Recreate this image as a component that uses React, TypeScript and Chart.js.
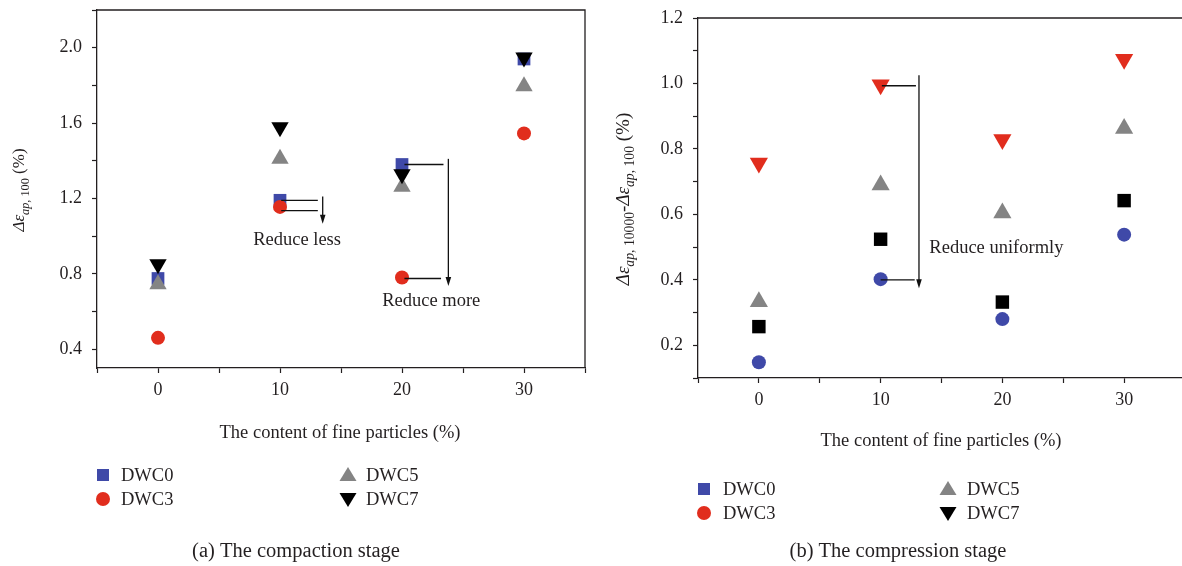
import React, { useEffect, useRef } from "react";
import { Chart, registerables } from "chart.js";
Chart.register(...registerables);

const FONT = '"Liberation Serif", "Times New Roman", serif';
const INK = "#231f20";
const BLUE = "#3f49a8";
const RED = "#e12d1d";
const GRAY = "#848484";
const BLACK = "#000000";

// x categories: content of fine particles (%)
const contentX = [0, 10, 20, 30];

// (a) compaction stage
const aDWC0 = [0.775, 1.19, 1.38, 1.94];
const aDWC3 = [0.46, 1.155, 0.78, 1.545];
const aDWC5 = [0.745, 1.41, 1.262, 1.795];
const aDWC7 = [0.85, 1.578, 1.328, 1.948];

// (b) compression stage (markers as drawn in the plot)
const bSquare = [0.257, 0.524, 0.332, 0.642];
const bCircle = [0.148, 0.402, 0.28, 0.538];
const bTriUp = [0.333, 0.69, 0.604, 0.862];
const bTriDown = [0.757, 0.996, 0.829, 1.074];

const seriesNames = ["DWC0", "DWC3", "DWC5", "DWC7"];

const xMajor = [0, 10, 20, 30];
const xMinor = [-5, 5, 15, 25, 35];
const aYMajor = [0.4, 0.8, 1.2, 1.6, 2.0];
const aYMinor = [0.6, 1.0, 1.4, 1.8, 2.2];
const bYMajor = [0.2, 0.4, 0.6, 0.8, 1.0, 1.2];
const bYMinor = [0.1, 0.3, 0.5, 0.7, 0.9, 1.1];

type Part = { t: string; i?: boolean; sub?: boolean };

const aYTitle: Part[] = [
  { t: "Δε", i: true },
  { t: "ap", i: true, sub: true },
  { t: ", 100", sub: true },
  { t: " (%)" },
];
const bYTitle: Part[] = [
  { t: "Δε", i: true },
  { t: "ap", i: true, sub: true },
  { t: ", 10000", sub: true },
  { t: "-" },
  { t: "Δε", i: true },
  { t: "ap", i: true, sub: true },
  { t: ", 100", sub: true },
  { t: " (%)" },
];

// annotations in data units
const aLines = [
  [[10.1, 1.19], [13.1, 1.19]],
  [[10.1, 1.135], [13.1, 1.135]],
  [[20.2, 1.38], [23.4, 1.38]],
  [[20.2, 0.775], [23.2, 0.775]],
];
const aArrows = [
  [[13.5, 1.21], [13.5, 1.065]],
  [[23.8, 1.41], [23.8, 0.735]],
];
const aTexts = [
  { t: "Reduce less", x: 11.4, y: 0.98, align: "center" },
  { t: "Reduce more", x: 22.4, y: 0.655, align: "center" },
];
const bLines = [
  [[10.1, 0.993], [12.9, 0.993]],
  [[10.0, 0.4], [12.8, 0.4]],
];
const bArrows = [[[13.15, 1.025], [13.15, 0.374]]];
const bTexts = [{ t: "Reduce uniformly", x: 14.0, y: 0.496, align: "left" }];

function font(size: number, italic = false) {
  return `${italic ? "italic " : ""}${size}px ${FONT}`;
}

function drawRich(ctx: CanvasRenderingContext2D, parts: Part[], cx: number, cy: number, size: number) {
  ctx.save();
  ctx.translate(cx, cy);
  ctx.rotate(-Math.PI / 2);
  const subSize = size * 0.72;
  let total = 0;
  const widths = parts.map((p) => {
    ctx.font = font(p.sub ? subSize : size, p.i);
    const w = ctx.measureText(p.t).width;
    total += w;
    return w;
  });
  let x = -total / 2;
  ctx.fillStyle = INK;
  ctx.textBaseline = "alphabetic";
  ctx.textAlign = "left";
  parts.forEach((p, k) => {
    ctx.font = font(p.sub ? subSize : size, p.i);
    ctx.fillText(p.t, x, size * 0.35 + (p.sub ? size * 0.28 : 0));
    x += widths[k];
  });
  ctx.restore();
}

function drawMarker(ctx: CanvasRenderingContext2D, shape: string, color: string, x: number, y: number) {
  ctx.save();
  ctx.fillStyle = color;
  ctx.beginPath();
  if (shape === "rect") {
    ctx.rect(x - 6, y - 6, 12, 12);
  } else if (shape === "circle") {
    ctx.arc(x, y, 7, 0, Math.PI * 2);
  } else if (shape === "up") {
    ctx.moveTo(x, y - 8);
    ctx.lineTo(x + 8.5, y + 6);
    ctx.lineTo(x - 8.5, y + 6);
    ctx.closePath();
  } else {
    ctx.moveTo(x, y + 8);
    ctx.lineTo(x + 8.5, y - 6);
    ctx.lineTo(x - 8.5, y - 6);
    ctx.closePath();
  }
  ctx.fill();
  ctx.restore();
}

const legendShapes = ["rect", "circle", "up", "down"];
const legendColors = [BLUE, RED, GRAY, BLACK];

type Decor = {
  yTitle: Part[];
  yTitleSize: number;
  yTitleX: number;
  yTitleY: number;
  xTitle: string;
  xTitleX: number;
  xTitleY: number;
  caption: string;
  captionX: number;
  captionY: number;
  legendCols: number[][]; // [markerX, textX]
  legendRows: number[];
  lines: number[][][];
  arrows: number[][][];
  texts: { t: string; x: number; y: number; align: string }[];
};

function makeDecor(d: Decor) {
  return {
    id: "decor",
    afterDatasetsDraw(chart: any) {
      const ctx: CanvasRenderingContext2D = chart.ctx;
      const xs = chart.scales.x;
      const ys = chart.scales.y;
      ctx.save();
      ctx.strokeStyle = "#111";
      ctx.fillStyle = "#111";
      ctx.lineWidth = 1.3;
      d.lines.forEach(([a, b]) => {
        ctx.beginPath();
        ctx.moveTo(xs.getPixelForValue(a[0]), ys.getPixelForValue(a[1]));
        ctx.lineTo(xs.getPixelForValue(b[0]), ys.getPixelForValue(b[1]));
        ctx.stroke();
      });
      d.arrows.forEach(([a, b]) => {
        const x1 = xs.getPixelForValue(a[0]);
        const y1 = ys.getPixelForValue(a[1]);
        const x2 = xs.getPixelForValue(b[0]);
        const y2 = ys.getPixelForValue(b[1]);
        ctx.beginPath();
        ctx.moveTo(x1, y1);
        ctx.lineTo(x2, y2 - 6);
        ctx.stroke();
        ctx.beginPath();
        ctx.moveTo(x2, y2);
        ctx.lineTo(x2 - 2.8, y2 - 9);
        ctx.lineTo(x2 + 2.8, y2 - 9);
        ctx.closePath();
        ctx.fill();
      });
      ctx.fillStyle = INK;
      ctx.font = font(18.5);
      ctx.textBaseline = "middle";
      d.texts.forEach((t) => {
        ctx.textAlign = t.align as CanvasTextAlign;
        ctx.fillText(t.t, xs.getPixelForValue(t.x), ys.getPixelForValue(t.y));
      });
      ctx.restore();
    },
    afterDraw(chart: any) {
      const ctx: CanvasRenderingContext2D = chart.ctx;
      const a = chart.chartArea;
      ctx.save();
      ctx.strokeStyle = INK;
      ctx.lineWidth = 1.3;
      ctx.beginPath();
      ctx.moveTo(a.left, a.top);
      ctx.lineTo(a.right, a.top);
      ctx.lineTo(a.right, a.bottom);
      ctx.stroke();

      drawRich(ctx, d.yTitle, d.yTitleX, d.yTitleY, d.yTitleSize);

      ctx.fillStyle = INK;
      ctx.textBaseline = "middle";
      ctx.textAlign = "center";
      ctx.font = font(18.5);
      ctx.fillText(d.xTitle, d.xTitleX, d.xTitleY);
      ctx.font = font(20.5);
      ctx.fillText(d.caption, d.captionX, d.captionY);

      ctx.font = font(18.5);
      ctx.textAlign = "left";
      seriesNames.forEach((name, k) => {
        const col = d.legendCols[Math.floor(k / 2)];
        const row = d.legendRows[k % 2];
        drawMarker(ctx, legendShapes[k], legendColors[k], col[0], row);
        ctx.fillStyle = INK;
        ctx.fillText(name, col[1], row + 1);
      });
      ctx.restore();
    },
  };
}

function near(list: number[], v: number) {
  return list.some((m) => Math.abs(m - v) < 1e-6);
}

function makeOptions(yMin: number, yMax: number, yMajor: number[], yMinor: number[], yWidth: number, padTop: number, padBottom: number) {
  const grid = {
    display: true,
    drawOnChartArea: false,
    drawTicks: true,
    tickLength: 5,
    tickColor: INK,
    tickWidth: 1.2,
  };
  return {
    responsive: false,
    animation: false as const,
    layout: { padding: { left: 0, right: 15, top: padTop, bottom: padBottom } },
    plugins: { legend: { display: false }, tooltip: { enabled: false } },
    scales: {
      x: {
        type: "linear" as const,
        min: -5,
        max: 35,
        grid,
        border: { display: true, color: INK, width: 1.3 },
        afterBuildTicks: (s: any) => {
          s.ticks = [...xMajor, ...xMinor].sort((p, q) => p - q).map((v) => ({ value: v }));
        },
        afterFit: (s: any) => {
          s.height = 30;
          s.paddingLeft = 0;
          s.paddingRight = 0;
        },
        ticks: {
          color: INK,
          font: { family: FONT, size: 18 },
          padding: 6,
          maxRotation: 0,
          autoSkip: false,
          callback: (v: any) => (near(xMajor, Number(v)) ? String(v) : ""),
        },
      },
      y: {
        type: "linear" as const,
        min: yMin,
        max: yMax,
        grid,
        border: { display: true, color: INK, width: 1.3 },
        afterBuildTicks: (s: any) => {
          s.ticks = [...yMajor, ...yMinor].sort((p, q) => p - q).map((v) => ({ value: v }));
        },
        afterFit: (s: any) => {
          s.width = yWidth;
          s.paddingTop = 0;
          s.paddingBottom = 0;
        },
        ticks: {
          color: INK,
          font: { family: FONT, size: 18 },
          padding: 10,
          autoSkip: false,
          callback: (v: any) => (near(yMajor, Number(v)) ? Number(v).toFixed(1) : ""),
        },
      },
    },
  };
}

function ds(label: string, values: number[], style: string, color: string, radius: number, order: number, rotation = 0) {
  return {
    label,
    data: contentX.map((x, k) => ({ x, y: values[k] })),
    showLine: false,
    pointStyle: style,
    pointRotation: rotation,
    pointRadius: radius,
    pointBackgroundColor: color,
    pointBorderColor: color,
    pointBorderWidth: 0,
    order,
  };
}

function ChartA() {
  const ref = useRef<HTMLCanvasElement>(null);
  useEffect(() => {
    const chart = new Chart(ref.current!, {
      type: "scatter",
      data: {
        datasets: [
          ds("DWC0", aDWC0, "rect", BLUE, 9, 4),
          ds("DWC3", aDWC3, "circle", RED, 7, 3),
          ds("DWC5", aDWC5, "triangle", GRAY, 10, 2),
          ds("DWC7", aDWC7, "triangle", BLACK, 10, 1, 180),
        ],
      },
      options: makeOptions(0.3, 2.2, aYMajor, aYMinor, 97, 8, 566 - 368 - 30) as any,
      plugins: [
        makeDecor({
          yTitle: aYTitle,
          yTitleSize: 17,
          yTitleX: 18,
          yTitleY: 190,
          xTitle: "The content of fine particles (%)",
          xTitleX: 340,
          xTitleY: 433,
          caption: "(a) The compaction stage",
          captionX: 296,
          captionY: 552,
          legendCols: [[103, 121], [348, 366]],
          legendRows: [475, 499],
          lines: aLines,
          arrows: aArrows,
          texts: aTexts,
        }),
      ],
    });
    return () => chart.destroy();
  }, []);
  return <canvas ref={ref} width={600} height={566} style={{ width: 600, height: 566, display: "block" }} />;
}

function ChartB() {
  const ref = useRef<HTMLCanvasElement>(null);
  useEffect(() => {
    const chart = new Chart(ref.current!, {
      type: "scatter",
      data: {
        datasets: [
          ds("DWC0", bSquare, "rect", BLACK, 9.5, 4),
          ds("DWC3", bCircle, "circle", BLUE, 7, 3),
          ds("DWC5", bTriUp, "triangle", GRAY, 10.5, 2),
          ds("DWC7", bTriDown, "triangle", RED, 10.5, 1, 180),
        ],
      },
      options: makeOptions(0.1, 1.2, bYMajor, bYMinor, 98, 18, 566 - 378 - 30) as any,
      plugins: [
        makeDecor({
          yTitle: bYTitle,
          yTitleSize: 19,
          yTitleX: 22,
          yTitleY: 199,
          xTitle: "The content of fine particles (%)",
          xTitleX: 341,
          xTitleY: 441,
          caption: "(b) The compression stage",
          captionX: 298,
          captionY: 552,
          legendCols: [[104, 123], [348, 367]],
          legendRows: [489, 513],
          lines: bLines,
          arrows: bArrows,
          texts: bTexts,
        }),
      ],
    });
    return () => chart.destroy();
  }, []);
  return <canvas ref={ref} width={600} height={566} style={{ width: 600, height: 566, display: "block" }} />;
}

export default function App() {
  return (
    <div style={{ position: "absolute", left: 0, top: 0, width: 1182, height: 566, overflow: "hidden", background: "#fff" }}>
      <div style={{ position: "absolute", left: 0, top: 0 }}>
        <ChartA />
      </div>
      <div style={{ position: "absolute", left: 600, top: 0 }}>
        <ChartB />
      </div>
    </div>
  );
}
